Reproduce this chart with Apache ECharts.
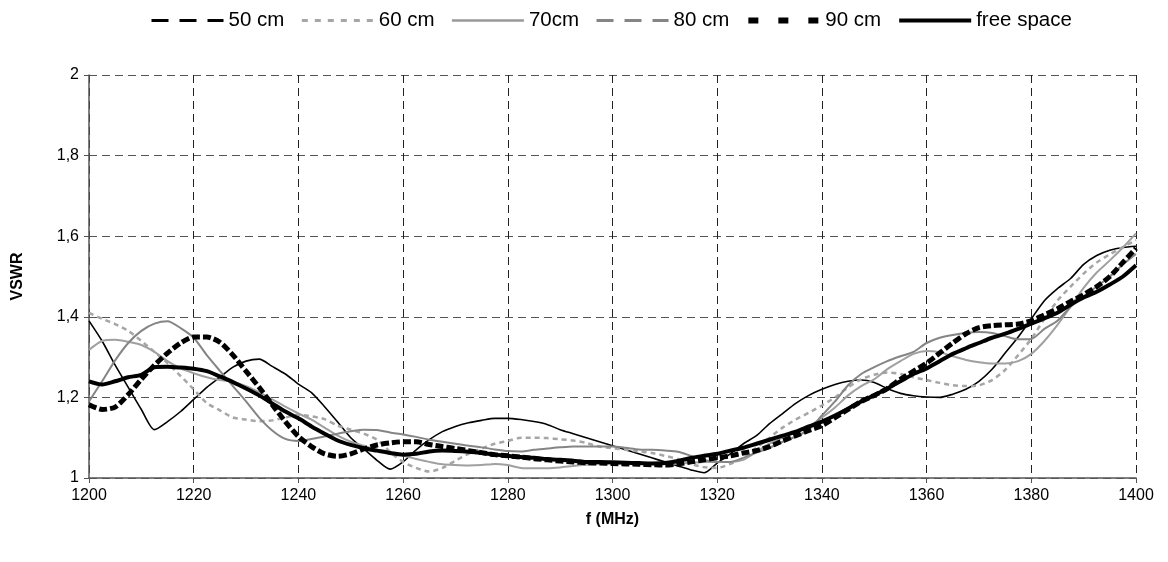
<!DOCTYPE html>
<html>
<head>
<meta charset="utf-8">
<script src="https://cdn.jsdelivr.net/npm/echarts@6/dist/echarts.min.js"></script>
<style>
html,body{margin:0;padding:0;background:#fff;}
#chart{width:1168px;height:562px;}
</style>
</head>
<body>
<div id="chart"></div>
<script>
// Frequency grid (MHz)
const freq = [1200,1202.5,1205,1207.5,1210,1212.5,1215,1217.5,1220,1222.5,
1225,1227.5,1230,1232.5,1235,1237.5,1240,1242.5,1245,1247.5,
1250,1252.5,1255,1257.5,1260,1262.5,1265,1267.5,1270,1272.5,
1275,1277.5,1280,1282.5,1285,1287.5,1290,1292.5,1295,1297.5,
1300,1302.5,1305,1307.5,1310,1312.5,1315,1317.5,1320,1322.5,
1325,1327.5,1330,1332.5,1335,1337.5,1340,1342.5,1345,1347.5,
1350,1352.5,1355,1357.5,1360,1362.5,1365,1367.5,1370,1372.5,
1375,1377.5,1380,1382.5,1385,1387.5,1390,1392.5,1395,1397.5,1400];

const cm50 = [1.39,1.34,1.28,1.225,1.17,1.12,1.14,1.165,1.195,1.225,
1.25,1.275,1.29,1.295,1.277,1.258,1.233,1.212,1.177,1.139,
1.10,1.072,1.044,1.022,1.04,1.07,1.095,1.115,1.128,1.137,
1.143,1.148,1.148,1.145,1.14,1.133,1.12,1.11,1.10,1.09,
1.08,1.07,1.06,1.05,1.04,1.03,1.02,1.013,1.037,1.06,
1.085,1.105,1.135,1.16,1.185,1.205,1.22,1.232,1.24,1.243,
1.237,1.222,1.21,1.204,1.201,1.2,1.208,1.22,1.24,1.27,
1.31,1.35,1.395,1.44,1.47,1.495,1.53,1.552,1.565,1.572,1.575];

const cm60 = [1.41,1.395,1.382,1.365,1.34,1.313,1.285,1.253,1.22,1.186,
1.168,1.15,1.145,1.141,1.143,1.15,1.157,1.153,1.146,1.13,
1.12,1.11,1.095,1.065,1.04,1.025,1.016,1.025,1.043,1.06,
1.073,1.085,1.092,1.1,1.1,1.099,1.096,1.093,1.087,1.078,
1.074,1.07,1.066,1.062,1.055,1.047,1.035,1.027,1.025,1.035,
1.05,1.075,1.1,1.125,1.145,1.162,1.18,1.2,1.225,1.245,
1.256,1.262,1.258,1.25,1.243,1.236,1.23,1.228,1.23,1.243,
1.268,1.305,1.345,1.395,1.44,1.475,1.507,1.535,1.555,1.573,1.59];

const cm70 = [1.318,1.34,1.343,1.338,1.33,1.313,1.29,1.272,1.26,1.25,
1.243,1.238,1.228,1.213,1.195,1.177,1.16,1.145,1.125,1.105,
1.09,1.08,1.07,1.062,1.056,1.047,1.04,1.034,1.032,1.031,
1.032,1.035,1.032,1.025,1.024,1.024,1.026,1.03,1.033,1.035,
1.036,1.037,1.036,1.035,1.035,1.036,1.038,1.04,1.04,1.04,
1.045,1.065,1.085,1.1,1.113,1.128,1.15,1.175,1.205,1.228,
1.245,1.27,1.29,1.308,1.315,1.312,1.302,1.293,1.287,1.284,
1.284,1.29,1.308,1.34,1.38,1.425,1.472,1.51,1.54,1.572,1.607];

const cm80 = [1.19,1.24,1.292,1.335,1.365,1.383,1.389,1.372,1.348,1.305,
1.266,1.228,1.19,1.15,1.118,1.097,1.092,1.097,1.103,1.11,
1.116,1.12,1.119,1.113,1.108,1.102,1.095,1.09,1.085,1.08,
1.076,1.071,1.067,1.066,1.07,1.073,1.076,1.078,1.078,1.078,
1.078,1.075,1.071,1.07,1.068,1.065,1.055,1.045,1.04,1.04,
1.05,1.063,1.075,1.09,1.103,1.12,1.155,1.19,1.23,1.258,
1.275,1.29,1.302,1.313,1.335,1.348,1.355,1.36,1.362,1.36,
1.352,1.344,1.345,1.37,1.39,1.425,1.451,1.475,1.5,1.53,1.556];

const cm90 = [1.182,1.17,1.176,1.207,1.245,1.28,1.31,1.335,1.35,1.35,
1.337,1.305,1.265,1.225,1.182,1.14,1.103,1.078,1.06,1.054,
1.06,1.072,1.082,1.087,1.09,1.09,1.083,1.078,1.073,1.068,
1.063,1.058,1.055,1.052,1.048,1.045,1.042,1.04,1.038,1.037,
1.036,1.035,1.034,1.033,1.032,1.035,1.04,1.045,1.05,1.055,
1.062,1.068,1.078,1.092,1.105,1.118,1.13,1.15,1.17,1.19,
1.205,1.222,1.245,1.265,1.285,1.31,1.335,1.358,1.373,1.378,
1.38,1.382,1.39,1.405,1.42,1.438,1.455,1.475,1.5,1.535,1.57];

const freeSpace = [1.24,1.232,1.24,1.25,1.256,1.275,1.276,1.274,1.271,1.265,
1.252,1.238,1.222,1.205,1.185,1.165,1.148,1.128,1.11,1.093,
1.082,1.074,1.068,1.062,1.058,1.06,1.066,1.068,1.067,1.065,
1.062,1.058,1.055,1.052,1.05,1.047,1.045,1.043,1.04,1.04,
1.039,1.038,1.037,1.036,1.037,1.042,1.05,1.055,1.06,1.068,
1.075,1.085,1.095,1.105,1.115,1.128,1.14,1.155,1.172,1.19,
1.205,1.222,1.24,1.258,1.272,1.29,1.308,1.322,1.335,1.348,
1.358,1.37,1.383,1.396,1.41,1.43,1.448,1.462,1.48,1.5,1.528];

const seriesNames = ['50 cm','60 cm','70cm','80 cm','90 cm','free space'];
const yTickLabels = {1:'1',1.2:'1,2',1.4:'1,4',1.6:'1,6',1.8:'1,8',2:'2'};

const FONT = '"Liberation Sans", Arial, sans-serif';
const pairs = arr => freq.map((f,i)=>[f, arr[i]]);

const plotStyles = [
  {color:'#000000', width:1.6, type:'solid'},
  {color:'#a6a6a6', width:2.5, type:[5,4]},
  {color:'#a0a0a0', width:2, type:'solid'},
  {color:'#858585', width:2, type:'solid'},
  {color:'#000000', width:5, type:[8,3]},
  {color:'#000000', width:4, type:'solid'}
];
const legendStyles = [
  {color:'#000000', width:3, type:[17,11]},
  {color:'#a6a6a6', width:3, type:[6,7]},
  {color:'#999999', width:2.5, type:'solid'},
  {color:'#858585', width:3, type:[17,11]},
  {color:'#000000', width:6, type:[10,20]},
  {color:'#000000', width:4, type:'solid'}
];
const dataSets = [cm50, cm60, cm70, cm80, cm90, freeSpace];

const chart = echarts.init(document.getElementById('chart'), null, {renderer:'canvas'});
chart.setOption({
  animation:false,
  backgroundColor:'#ffffff',
  textStyle:{fontFamily:FONT},
  legend:{
    left:145, top:5,
    itemWidth:72, itemHeight:12, itemGap:16,
    textStyle:{fontSize:20.5, color:'#000', fontFamily:FONT},
    data: seriesNames.map((n,i)=>({name:n, lineStyle:legendStyles[i], itemStyle:{opacity:0, borderWidth:0}}))
  },
  grid:{left:89, right:32, top:75, bottom:84},
  xAxis:{
    type:'value', min:1200, max:1400, interval:20,
    name:'f (MHz)', nameLocation:'middle', nameGap:34,
    nameTextStyle:{fontSize:16, fontWeight:'bold', color:'#000', fontFamily:FONT},
    axisLine:{show:true, lineStyle:{color:'#555', width:1.5}},
    axisTick:{show:true, length:5, lineStyle:{color:'#555'}},
    axisLabel:{fontSize:16, color:'#000', margin:10, fontFamily:FONT, formatter: v => String(v)},
    splitLine:{show:true, lineStyle:{color:'#222', type:[8,5], width:1}}
  },
  yAxis:{
    type:'value', min:1, max:2, interval:0.2,
    name:'VSWR', nameLocation:'middle', nameGap:63,
    nameTextStyle:{fontSize:16, fontWeight:'bold', color:'#000', fontFamily:FONT},
    axisLine:{show:true, lineStyle:{color:'#555', width:1.5}},
    axisTick:{show:true, length:5, lineStyle:{color:'#555'}},
    axisLabel:{fontSize:16, color:'#000', margin:10, fontFamily:FONT,
      formatter: v => { const k = Math.round(v*10)/10; return yTickLabels[k] !== undefined ? yTickLabels[k] : String(k).replace('.',','); }},
    splitLine:{show:true, lineStyle:{color:'#555', type:[8,5], width:1}}
  },
  series: seriesNames.map((n,i)=>({
    name:n, type:'line', data:pairs(dataSets[i]),
    symbol:'none', smooth:0.25,
    lineStyle:plotStyles[i],
    itemStyle:{color:plotStyles[i].color},
    z: 2+i
  }))
});
</script>
</body>
</html>
